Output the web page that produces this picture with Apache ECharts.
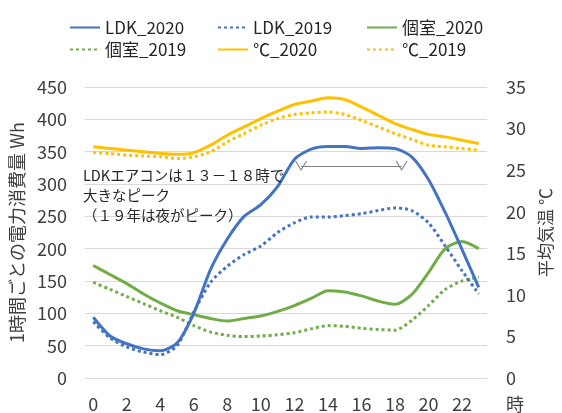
<!DOCTYPE html>
<html>
<head>
<meta charset="utf-8">
<script src="https://cdn.jsdelivr.net/npm/echarts@6/dist/echarts.min.js"></script>
<style>
html,body{margin:0;padding:0;background:#fff;}
#chart{width:562px;height:413px;}
</style>
</head>
<body>
<div id="chart"></div>
<script>
const hours = ['0','1','2','3','4','5','6','7','8','9','10','11','12','13','14','15','16','17','18','19','20','21','22','23'];
const ldk2020 = [94, 65, 53, 45, 42, 54, 100, 168, 215, 250, 268, 296, 338, 354, 358, 358, 355, 356, 355, 342, 307, 256, 199, 140];
const ldk2019 = [87, 62, 48, 40, 36, 50, 102, 148, 173, 191, 204, 225, 240, 249, 249, 251, 254, 259, 263, 259, 240, 204, 166, 130];
const room2020 = [174, 160, 146, 130, 116, 104, 98, 92, 88, 92, 96, 103, 112, 123, 135, 133, 127, 119, 114, 129, 163, 200, 211, 200];
const room2019 = [148, 137, 126, 115, 104, 94, 81, 71, 66, 64, 65, 67, 70, 76, 81, 80, 77, 75, 74, 89, 112, 137, 150, 156];
const temp2020 = [27.8, 27.6, 27.4, 27.2, 27.0, 26.9, 27.1, 28.0, 29.2, 30.2, 31.2, 32.1, 32.9, 33.3, 33.7, 33.5, 32.6, 31.6, 30.6, 29.9, 29.3, 29.0, 28.6, 28.2];
const temp2019 = [27.1, 27.0, 26.8, 26.7, 26.6, 26.4, 26.6, 27.2, 28.4, 29.4, 30.4, 31.2, 31.7, 31.9, 32.0, 31.7, 31.0, 30.2, 29.4, 28.7, 28.0, 27.8, 27.6, 27.4];
const leftTicks = {min: 0, max: 450, interval: 50};
const rightTicks = {min: 0, max: 35, interval: 5};
const arrowFrom = 12.4, arrowTo = 18.4, arrowLevel = 328;
const noteText = 'LDKエアコンは１３－１８時で\n大きなピーク\n（１９年は夜がピーク）';

const FONT = '"Noto Sans CJK JP", "Noto Sans", sans-serif';
const TXT = '#404040';
const BLUE = '#4472C4', GREEN = '#70AD47', GOLD = '#FFC000';

function mk(name, data, color, dotted, yIdx) {
  return {
    name: name, type: 'line', data: data, yAxisIndex: yIdx, xAxisIndex: 0,
    symbol: 'none', smooth: 0.25, z: 3,
    lineStyle: {color: color, width: 3, type: dotted ? [3, 3] : 'solid'},
    itemStyle: {color: color}
  };
}

const chart = echarts.init(document.getElementById('chart'), null, {renderer: 'canvas'});
const legendBase = {
  orient: 'vertical', top: 14, itemWidth: 30, itemHeight: 14, itemGap: 5,
  itemStyle: {opacity: 0},
  textStyle: {fontFamily: FONT, fontSize: 17, color: '#262626', lineHeight: 17}
};
chart.setOption({
  animation: false,
  textStyle: {fontFamily: FONT},
  grid: {left: 80, right: 66, top: 87, bottom: 34},
  legend: [
    Object.assign({left: 64, data: ['LDK_2020', '個室_2019']}, legendBase),
    Object.assign({left: 212, data: ['LDK_2019', '℃_2020']}, legendBase),
    Object.assign({left: 361, data: ['個室_2020', '℃_2019']}, legendBase)
  ],
  xAxis: [{
    type: 'category', data: hours, boundaryGap: true,
    axisLine: {show: false}, axisTick: {show: false},
    axisLabel: {interval: 1, fontFamily: FONT, fontSize: 18, color: TXT, margin: 17},
    name: '時', nameLocation: 'end', nameGap: 19,
    nameTextStyle: {fontFamily: FONT, fontSize: 18, color: TXT, verticalAlign: 'top', padding: [17, 0, 0, 0]}
  }, {
    type: 'value', min: -0.5, max: 23.5, show: false
  }],
  yAxis: [{
    type: 'value', min: leftTicks.min, max: leftTicks.max, interval: leftTicks.interval,
    axisLine: {show: false}, axisTick: {show: false},
    axisLabel: {fontFamily: FONT, fontSize: 18, color: TXT, margin: 18},
    splitLine: {lineStyle: {color: '#d9d9d9', width: 1}},
    name: '1時間ごとの電力消費量 Wh', nameLocation: 'middle', nameRotate: 90, nameGap: 47,
    nameTextStyle: {fontFamily: FONT, fontSize: 18, color: TXT}
  }, {
    type: 'value', position: 'right', min: rightTicks.min, max: rightTicks.max, interval: rightTicks.interval,
    axisLine: {show: false}, axisTick: {show: false}, splitLine: {show: false},
    axisLabel: {fontFamily: FONT, fontSize: 18, color: TXT, margin: 19},
    name: '平均気温 ℃', nameLocation: 'middle', nameRotate: 90, nameGap: 41,
    nameTextStyle: {fontFamily: FONT, fontSize: 17, color: TXT}
  }],
  series: [
    mk('℃_2019', temp2019, GOLD, true, 1),
    mk('℃_2020', temp2020, GOLD, false, 1),
    mk('個室_2019', room2019, GREEN, true, 0),
    mk('個室_2020', room2020, GREEN, false, 0),
    mk('LDK_2019', ldk2019, BLUE, true, 0),
    mk('LDK_2020', ldk2020, BLUE, false, 0),
    {
      name: 'arrow', type: 'line', xAxisIndex: 1, yAxisIndex: 0, data: [], silent: true,
      markLine: {
        silent: true, animation: false,
        symbol: ['path://M10,0 L0,5 L10,10 L10,9 L2,5 L10,1 Z', 'path://M0,0 L10,5 L0,10 L0,9 L8,5 L0,1 Z'],
        symbolSize: [10, 12],
        label: {show: false},
        lineStyle: {color: '#7f7f7f', width: 1, type: 'solid'},
        data: [[{coord: [arrowFrom, arrowLevel]}, {coord: [arrowTo, arrowLevel]}]]
      }
    }
  ],
  graphic: [{
    type: 'text', left: 83, top: 165, z: 10,
    style: {text: noteText, font: '14.5px ' + FONT, fill: '#262626', lineHeight: 20}
  }]
});
</script>
</body>
</html>
